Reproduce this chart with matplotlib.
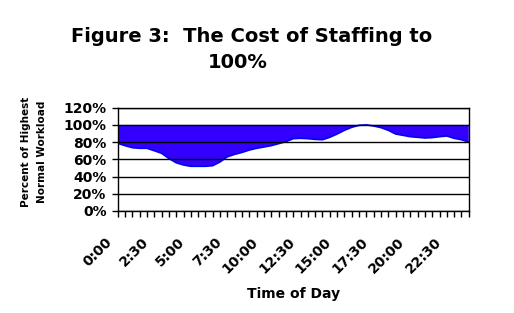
import matplotlib
matplotlib.use("Agg")
import matplotlib.pyplot as plt
import matplotlib.transforms as mtransforms
import numpy as np

# 49 half-hour points from 0:00 to 24:00
times = [f"{h}:{m:02d}" for h in range(25) for m in (0, 30)][:49]
workload = [78.6, 75.9, 73.5, 72.8, 72.8, 70.0, 67.0, 61.0, 56.0, 53.4,
            51.9, 51.9, 51.9, 52.6, 57.0, 63.0, 65.8, 68.0, 70.8, 72.8,
            74.3, 75.9, 78.2, 80.5, 84.0, 84.4, 84.0, 83.2, 82.8, 85.6,
            89.4, 93.7, 97.2, 99.5, 100.0, 98.7, 96.8, 93.7, 89.4, 87.9,
            86.3, 85.6, 84.8, 85.2, 86.3, 87.1, 84.4, 82.8, 80.1]
staffing_level = 100
y_ticks = [0, 20, 40, 60, 80, 100, 120]
label_every = 5

plt.rcParams['font.family'] = ['DejaVu Sans']
plt.rcParams['font.weight'] = 'bold'

fig = plt.figure(figsize=(5.14, 3.13), dpi=100)
ax = fig.add_axes([0.229, 0.326, 0.683, 0.330])

x = np.arange(len(workload))
w = np.array(workload)
ax.fill_between(x, w, staffing_level, where=w < staffing_level, interpolate=True,
                color='#3300FF', linewidth=0, zorder=2)
ax.plot(x, w, color='#0000EE', lw=1.2, zorder=3)

ax.set_xlim(0, len(workload) - 1)
ax.set_ylim(0, 120)
for v in y_ticks:
    ax.axhline(v, color='black', lw=1.0, zorder=4)

ax.tick_params(axis='x', direction='out', length=4, width=1, pad=13)
ax.tick_params(axis='y', direction='out', length=4, width=1, pad=4)

ax.set_yticks(y_ticks)
ax.set_yticklabels([f"{v}%" for v in y_ticks], fontsize=10, fontweight='bold')
ax.set_xticks(x)
ax.set_xticklabels([t if i % label_every == 0 else '' for i, t in enumerate(times)],
                   fontsize=10, fontweight='bold', rotation=45,
                   ha='right', va='top')
offset = mtransforms.ScaledTranslation(-3 / 100, 0, fig.dpi_scale_trans)
for lbl in ax.get_xticklabels():
    lbl.set_transform(lbl.get_transform() + offset)

for s in ax.spines.values():
    s.set_color('black')
    s.set_linewidth(1)
    s.set_zorder(5)

fig.text(0.0498, 0.516, "Percent of Highest", rotation=90, ha='center', va='center',
         fontsize=7.5, fontweight='bold')
fig.text(0.081, 0.516, "Normal Workload", rotation=90, ha='center', va='center',
         fontsize=7.5, fontweight='bold')

fig.text(0.489, 0.866, "Figure 3:  The Cost of Staffing to", ha='center', va='baseline',
         fontsize=14, fontweight='bold')
fig.text(0.463, 0.783, "100%", ha='center', va='baseline',
         fontsize=14, fontweight='bold')
fig.text(0.572, 0.0495, "Time of Day", ha='center', va='baseline',
         fontsize=10, fontweight='bold')

fig.savefig("out.png", dpi=100)
